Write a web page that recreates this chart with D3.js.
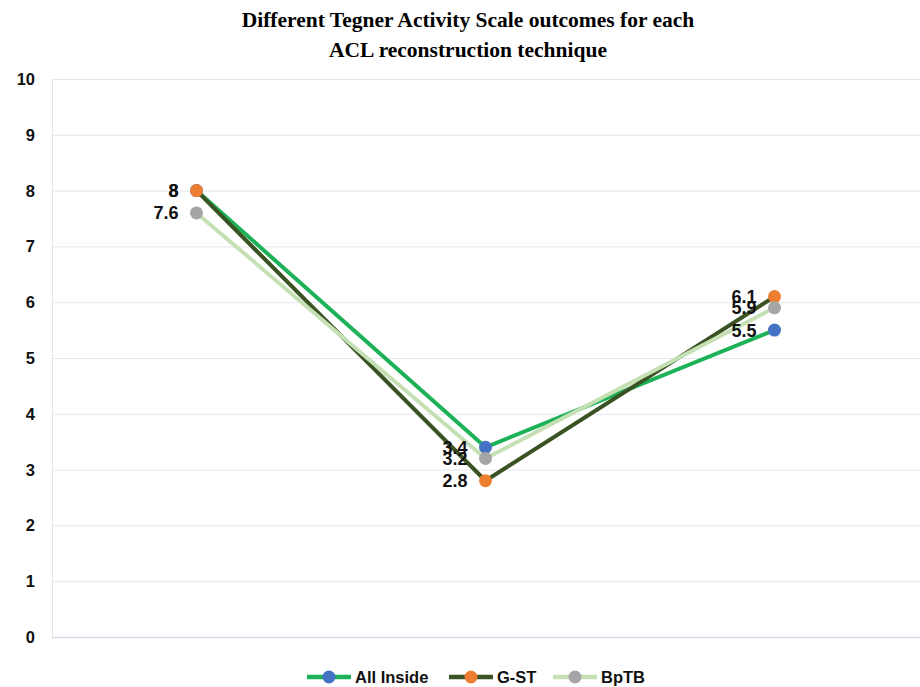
<!DOCTYPE html>
<html>
<head>
<meta charset="utf-8">
<script src="https://cdn.jsdelivr.net/npm/d3@7"></script>
<style>
  body { margin: 0; background: #fff; }
  svg { display: block; }
</style>
</head>
<body>
<div id="chart"></div>
<script>
// categories (no labels are shown on the x axis)
const categories = ['A', 'B', 'C'];
const seriesNames = ['All Inside', 'G-ST', 'BpTB'];
const allInside = [8, 3.4, 5.5];
const gst = [8, 2.8, 6.1];
const bptb = [7.6, 3.2, 5.9];
const yTicks = [0, 1, 2, 3, 4, 5, 6, 7, 8, 9, 10];
const titleLines = ['Different Tegner Activity Scale outcomes for each', 'ACL reconstruction technique'];

const width = 920, height = 687;
const margin = {top: 79, right: 0, bottom: 50, left: 52};

const series = [
    {name: seriesNames[0], values: allInside, line: '#1db257', marker: '#4472c4'},
    {name: seriesNames[1], values: gst, line: '#3b5323', marker: '#ed7d31'},
    {name: seriesNames[2], values: bptb, line: '#c5e0b4', marker: '#a5a5a5'}
];

const svg = d3.select('#chart').append('svg')
    .attr('width', width)
    .attr('height', height);

const x = d3.scaleBand()
    .domain(categories)
    .range([margin.left, margin.left + 3 * 289]);

const y = d3.scaleLinear()
    .domain([0, 10])
    .range([637, margin.top]);

// title
svg.append('g').selectAll('text')
    .data(titleLines)
    .join('text')
    .attr('x', 468)
    .attr('y', (d, i) => 27 + i * 30)
    .attr('text-anchor', 'middle')
    .style('font-family', '"Liberation Serif", "Times New Roman", serif')
    .style('font-weight', 'bold')
    .style('font-size', '21.5px')
    .text(d => d);

// gridlines
svg.append('g').selectAll('line')
    .data(yTicks)
    .join('line')
    .attr('x1', margin.left)
    .attr('x2', width)
    .attr('y1', d => y(d) + 0.5)
    .attr('y2', d => y(d) + 0.5)
    .attr('stroke', d => d === 0 ? '#d6dce5' : '#e3e6ec')
    .attr('stroke-width', d => d === 0 ? 1.5 : 1);

svg.append('line')
    .attr('x1', margin.left + 0.5).attr('x2', margin.left + 0.5)
    .attr('y1', y(10)).attr('y2', y(0))
    .attr('stroke', '#e3e6ec');

// y tick labels
svg.append('g').selectAll('text')
    .data(yTicks)
    .join('text')
    .attr('x', 35)
    .attr('y', d => y(d))
    .attr('dy', '0.36em')
    .attr('text-anchor', 'end')
    .style('font-family', '"Liberation Sans", Arial, sans-serif')
    .style('font-weight', 'bold')
    .style('font-size', '16.5px')
    .attr('fill', '#111')
    .text(d => d);

const cx = c => x(c) + x.bandwidth() / 2;

const line = d3.line()
    .x((d, i) => cx(categories[i]))
    .y(d => y(d));

for (let s of series) {
    const g = svg.append('g');
    g.append('path')
        .datum(s.values)
        .attr('d', line)
        .attr('fill', 'none')
        .attr('stroke', s.line)
        .attr('stroke-width', 4)
        .attr('stroke-linejoin', 'round');

    g.selectAll('circle')
        .data(s.values)
        .join('circle')
        .attr('cx', (d, i) => cx(categories[i]))
        .attr('cy', d => y(d))
        .attr('r', 6.5)
        .attr('fill', s.marker);
}

// data labels, left of each point (they overlap in the original too)
for (let s of series) {
    svg.append('g').selectAll('text')
        .data(s.values)
        .join('text')
        .attr('x', (d, i) => cx(categories[i]) - 18)
        .attr('y', d => y(d))
        .attr('dy', '0.36em')
        .attr('text-anchor', 'end')
        .style('font-family', '"Liberation Sans", Arial, sans-serif')
        .style('font-weight', 'bold')
        .style('font-size', '18px')
        .attr('fill', '#111')
        .text(d => d);
}

// legend
const legendX = [307, 449, 553];
const legend = svg.append('g');
series.forEach((s, i) => {
    const lg = legend.append('g').attr('transform', `translate(${legendX[i]}, 677)`);
    lg.append('line')
        .attr('x1', 0).attr('x2', 44)
        .attr('stroke', s.line)
        .attr('stroke-width', 4.5);
    lg.append('circle')
        .attr('cx', 22)
        .attr('r', 6.5)
        .attr('fill', s.marker);
    lg.append('text')
        .attr('x', 48)
        .attr('dy', '0.36em')
        .style('font-family', '"Liberation Sans", Arial, sans-serif')
        .style('font-weight', 'bold')
        .style('font-size', '16.5px')
        .attr('fill', '#111')
        .text(s.name);
});
</script>
</body>
</html>
